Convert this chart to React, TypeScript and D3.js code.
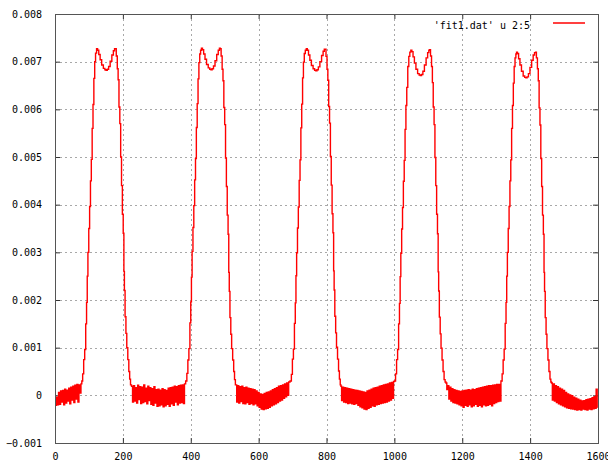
import { useEffect, useRef } from 'react';
import * as d3 from 'd3';

// y values are stored in units of 1e-5
const Y_UNIT = 1e-5;

const xTicks = [0, 200, 400, 600, 800, 1000, 1200, 1400, 1600];
const yTicks = [-0.001, 0, 0.001, 0.002, 0.003, 0.004, 0.005, 0.006, 0.007, 0.008];
const legendLabel = "'fit1.dat' u 2:5";

// flat, noisy parts between the pulses (sampled every BASE_STEP)
const BASE_STEP = 3;
const baseStarts = [0, 227, 534, 843, 1153, 1464];

const base0 = [
  -5, -21, -4, -20, 6, -19, 9, -14, 10, -20, 13, -16, 11, -12, 15, -18, 17, -10, 19, -15,
  21, -8, 23, -14, 22, 5, 24,
];
const base1 = [
  19, -14, 20, -12, 16, -16, 21, -9, 18, -17, 17, -15, 22, -13, 15, -18, 19, -11, 16, -19,
  14, -21, 18, -16, 12, -23, 13, -22, 11, -20, 14, -24, 12, -22, 10, -19, 15, -23, 16, -18,
  17, -21, 19, -14, 18, -20, 20, -16, 21, -15, 22, -17, 24,
];
const base2 = [
  22, -14, 20, -16, 18, -13, 19, -17, 16, -18, 17, -15, 15, -19, 14, -17, 13, -20, 12, -18,
  9, -22, 6, -25, 3, -29, 2, -30, 4, -28, 6, -27, 7, -25, 9, -22, 12, -20, 14, -18,
  16, -15, 19, -12, 20, -10, 22, -6, 24, -3, 26, 0, 28,
];
const base3 = [
  19, -11, 17, -14, 16, -15, 15, -17, 14, -16, 13, -18, 12, -19, 11, -17, 10, -21, 9, -24,
  8, -26, 7, -29, 6, -30, 9, -27, 11, -25, 13, -22, 15, -23, 16, -20, 17, -19, 19, -17,
  20, -16, 22, -15, 23, -14, 24, -12, 26, -10, 27, -6, 29,
];
const base4 = [
  26, 12, 20, -8, 17, -12, 14, -15, 12, -16, 10, -18, 9, -20, 8, -22, 9, -25, 10, -21,
  11, -23, 12, -20, 11, -24, 13, -22, 12, -19, 14, -23, 15, -21, 16, -24, 17, -20, 18, -22,
  19, -21, 20, -19, 20, -22, 21, -17, 22, -15, 23, -13, 23, -12,
];
const base5 = [
  26, -10, 24, -12, 20, -15, 18, -18, 15, -20, 13, -22, 10, -24, 6, -26, 3, -27, 1, -28,
  -1, -29, -4, -30, -6, -31, -8, -30, -10, -31, -12, -29, -11, -30, -9, -31, -8, -29, -7, -30,
  -5, -28, -3, -27, 13, -25,
];
const bases = [base0, base1, base2, base3, base4, base5];

// the five pulses: [x, y]
const pulse1 = [
  [80, 30], [83, 45], [86, 75], [89, 96], [92, 150], [94, 195], [96, 250], [98, 300], [101, 350],
  [103, 396], [106, 450], [108, 495], [111, 560], [113, 610], [116, 665], [118, 700], [121, 718],
  [124, 727], [127, 724], [131, 715], [135, 704], [140, 693], [145, 686], [149, 683], [152, 682],
  [156, 684], [160, 690], [165, 701], [170, 714], [174, 723], [177, 727], [179, 727], [182, 712],
  [185, 685], [187, 662], [190, 605], [192, 570], [195, 500], [197, 440], [200, 380], [202, 340],
  [204, 260], [205, 220], [208, 165], [210, 130], [213, 100], [216, 75], [219, 50], [221, 34], [224, 22],
];
const pulse2 = [
  [387, 30], [390, 46], [393, 74], [396, 98], [399, 152], [401, 196], [403, 248], [405, 302], [408, 352],
  [410, 398], [413, 452], [415, 497], [418, 562], [420, 612], [423, 664], [425, 698], [428, 716],
  [430, 724], [433, 728], [436, 725], [440, 716], [444, 705], [449, 694], [454, 687], [458, 684],
  [461, 683], [465, 685], [469, 691], [474, 702], [479, 715], [483, 724], [486, 728], [488, 727],
  [491, 712], [494, 684], [496, 660], [499, 604], [501, 568], [504, 498], [506, 438], [509, 378],
  [511, 338], [513, 258], [514, 218], [517, 163], [519, 128], [522, 98], [525, 74], [528, 50], [530, 33], [533, 22],
];
const pulse3 = [
  [695, 30], [698, 44], [701, 76], [704, 97], [707, 151], [709, 194], [711, 251], [713, 299], [716, 351],
  [718, 395], [721, 451], [723, 494], [726, 561], [728, 611], [731, 666], [733, 699], [736, 717],
  [739, 724], [742, 727], [745, 724], [749, 714], [753, 703], [758, 692], [763, 685], [767, 682],
  [770, 681], [774, 683], [778, 689], [783, 700], [788, 713], [792, 722], [795, 726], [797, 726],
  [800, 711], [803, 684], [805, 661], [808, 606], [810, 571], [813, 501], [815, 441], [818, 381],
  [820, 341], [822, 261], [823, 221], [826, 166], [828, 131], [831, 101], [834, 76], [837, 51], [839, 34], [842, 22],
];
const pulse4 = [
  [1002, 30], [1005, 45], [1008, 75], [1011, 96], [1014, 150], [1016, 193], [1018, 249], [1020, 298],
  [1023, 349], [1025, 394], [1028, 449], [1030, 493], [1033, 558], [1035, 608], [1038, 646], [1041, 690],
  [1044, 711], [1047, 720], [1050, 724], [1053, 721], [1057, 710], [1061, 697], [1066, 684], [1071, 675],
  [1075, 672], [1078, 671], [1082, 673], [1086, 680], [1091, 693], [1096, 708], [1100, 719], [1103, 724],
  [1105, 725], [1108, 712], [1111, 690], [1113, 656], [1116, 605], [1118, 568], [1121, 499], [1123, 440],
  [1126, 380], [1128, 339], [1130, 259], [1131, 219], [1134, 164], [1136, 129], [1139, 99], [1142, 74],
  [1145, 50], [1148, 33], [1151, 28],
];
const pulse5 = [
  [1316, 30], [1319, 45], [1322, 74], [1325, 97], [1328, 151], [1330, 195], [1332, 250], [1334, 300],
  [1337, 350], [1339, 396], [1342, 450], [1344, 494], [1347, 560], [1349, 608], [1352, 655], [1354, 690],
  [1357, 708], [1359, 716], [1361, 720], [1364, 717], [1368, 706], [1372, 693], [1377, 680], [1382, 670],
  [1386, 667], [1389, 666], [1393, 668], [1397, 675], [1402, 688], [1407, 703], [1411, 714], [1415, 719],
  [1417, 720], [1420, 708], [1423, 685], [1425, 660], [1428, 603], [1430, 567], [1433, 497], [1435, 438],
  [1438, 378], [1440, 338], [1442, 258], [1443, 218], [1446, 163], [1448, 128], [1451, 98], [1454, 74],
  [1457, 50], [1460, 34], [1462, 28],
];
const pulses = [pulse1, pulse2, pulse3, pulse4, pulse5];

const W = 608;
const H = 462;
const margin = { left: 55, right: 10, top: 14, bottom: 19 };
const FONT = '"DejaVu Sans Mono", monospace';

function buildSeries(): [number, number][] {
  const pts: [number, number][] = [];
  bases.forEach((vals, i) => {
    vals.forEach((v, j) => pts.push([baseStarts[i] + j * BASE_STEP, v * Y_UNIT]));
    if (pulses[i]) pulses[i].forEach(([x, v]) => pts.push([x, v * Y_UNIT]));
  });
  return pts.sort((a, b) => a[0] - b[0]);
}

function drawChart(el: SVGSVGElement) {
  const svg = d3.select(el);
  svg.selectAll('*').remove();

  const x0 = margin.left;
  const x1 = W - margin.right;
  const y0 = margin.top;
  const y1 = H - margin.bottom;

  const x = d3.scaleLinear().domain([0, 1600]).range([x0, x1]);
  const y = d3.scaleLinear().domain([-0.001, 0.008]).range([y1, y0]);

  svg.append('rect').attr('width', W).attr('height', H).attr('fill', '#fff');

  // dotted grid
  const grid = svg.append('g')
    .attr('stroke', '#a8a8a8')
    .attr('stroke-width', 1)
    .attr('stroke-dasharray', '2,3')
    .attr('shape-rendering', 'crispEdges');
  grid.selectAll('line.v').data(xTicks).join('line')
    .attr('class', 'v')
    .attr('x1', d => Math.round(x(d)) + 0.5).attr('x2', d => Math.round(x(d)) + 0.5)
    .attr('y1', y0).attr('y2', y1);
  grid.selectAll('line.h').data(yTicks).join('line')
    .attr('class', 'h')
    .attr('x1', x0).attr('x2', x1)
    .attr('y1', d => Math.round(y(d)) + 0.5).attr('y2', d => Math.round(y(d)) + 0.5);

  // axes with inward ticks, mirrored on top and right
  const styleAxis = (g: d3.Selection<SVGGElement, unknown, null, undefined>) => {
    g.select('.domain').remove();
    g.selectAll('line').attr('stroke', '#333');
    g.selectAll('text').attr('fill', '#000').style('font-family', FONT).style('font-size', '10px');
  };

  svg.append('g')
    .attr('transform', `translate(${x0},0)`)
    .call(d3.axisLeft(y).tickValues(yTicks).tickSize(-5).tickPadding(13)
      .tickFormat(d => (+d === 0 ? '0' : d3.format('.3f')(+d))))
    .call(styleAxis);
  svg.append('g')
    .attr('transform', `translate(${x1},0)`)
    .call(d3.axisRight(y).tickValues(yTicks).tickSize(-5).tickFormat(() => ''))
    .call(styleAxis);
  svg.append('g')
    .attr('transform', `translate(0,${y1})`)
    .call(d3.axisBottom(x).tickValues(xTicks).tickSize(-5).tickPadding(10).tickFormat(d3.format('d')))
    .call(styleAxis);
  svg.append('g')
    .attr('transform', `translate(0,${y0})`)
    .call(d3.axisTop(x).tickValues(xTicks).tickSize(-5).tickFormat(() => ''))
    .call(styleAxis);

  // data line (stepped, so the dense noise reads as solid vertical strokes)
  svg.append('clipPath').attr('id', 'plot-clip')
    .append('rect').attr('x', x0).attr('y', y0).attr('width', x1 - x0).attr('height', y1 - y0);

  const line = d3.line<[number, number]>()
    .x(d => x(d[0]))
    .y(d => y(d[1]))
    .curve(d3.curveStep);
  svg.append('path')
    .datum(buildSeries())
    .attr('clip-path', 'url(#plot-clip)')
    .attr('fill', 'none')
    .attr('stroke', '#ff0000')
    .attr('stroke-width', 1.4)
    .attr('d', line);

  // border
  svg.append('rect')
    .attr('x', x0 + 0.5).attr('y', y0 + 0.5)
    .attr('width', x1 - x0).attr('height', y1 - y0)
    .attr('fill', 'none')
    .attr('stroke', '#555')
    .attr('stroke-width', 1);

  // legend
  svg.append('text')
    .attr('x', 530).attr('y', 28.5)
    .attr('text-anchor', 'end')
    .attr('fill', '#000')
    .style('font-family', FONT)
    .style('font-size', '10px')
    .text(legendLabel);
  svg.append('line')
    .attr('x1', 553).attr('x2', 585)
    .attr('y1', 23).attr('y2', 23)
    .attr('stroke', '#ff0000')
    .attr('stroke-width', 1.5);
}

export default function App() {
  const ref = useRef<SVGSVGElement>(null);

  useEffect(() => {
    if (ref.current) drawChart(ref.current);
  }, []);

  return (
    <svg
      ref={ref}
      width={W}
      height={H}
      style={{ position: 'absolute', left: 0, top: 0, display: 'block' }}
    />
  );
}
